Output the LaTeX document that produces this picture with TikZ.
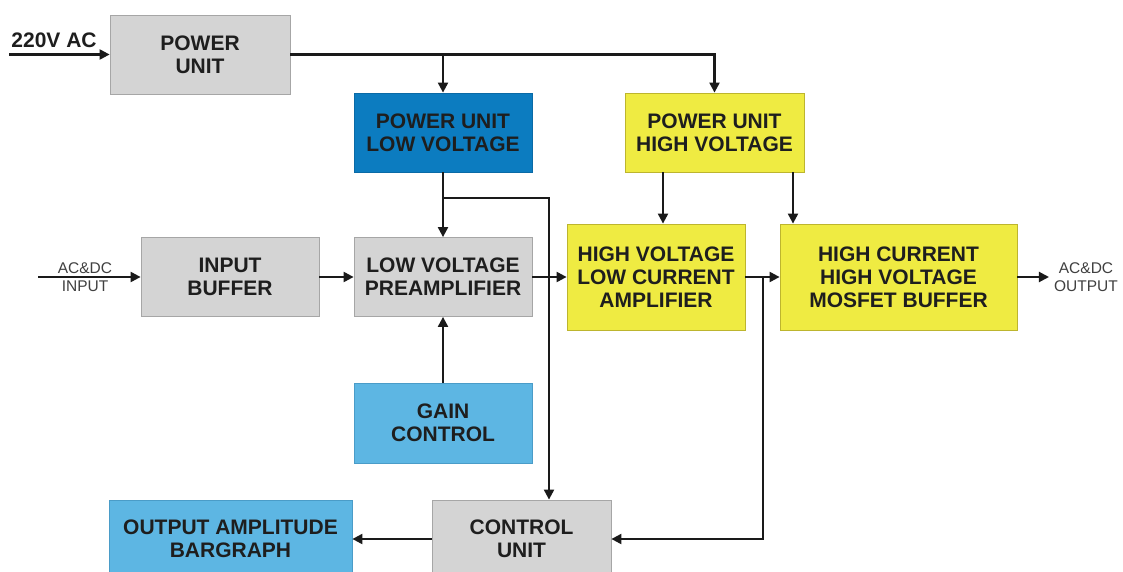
\documentclass[tikz,border=0pt]{standalone}
\usepackage{fontspec}
\setmainfont{Liberation Sans}
\usetikzlibrary{arrows.meta}
\definecolor{boxgray}{HTML}{D4D4D4}
\definecolor{grayedge}{HTML}{A6A6A6}
\definecolor{dblue}{HTML}{0C7CC0}
\definecolor{dblueedge}{HTML}{0A6AA6}
\definecolor{lblue}{HTML}{5DB6E3}
\definecolor{lblueedge}{HTML}{4A9CC8}
\definecolor{yel}{HTML}{EFEB42}
\definecolor{yeledge}{HTML}{BDB52E}
\definecolor{txt}{HTML}{1E1E1E}
\definecolor{lin}{HTML}{1A1A1A}
\definecolor{smalltxtc}{HTML}{404040}
\begin{document}
\begin{tikzpicture}[x=1pt,y=-1pt,
  blockbox/.style={rectangle, inner sep=0pt, align=center, line width=0.8pt,
    font=\bfseries\fontsize{21}{23}\selectfont, text=txt},
  graybox/.style={blockbox, fill=boxgray, draw=grayedge},
  dbluebox/.style={blockbox, fill=dblue, draw=dblueedge},
  lbluebox/.style={blockbox, fill=lblue, draw=lblueedge},
  yelbox/.style={blockbox, fill=yel, draw=yeledge},
  smalltxt/.style={inner sep=0pt, align=center, font=\fontsize{15.5}{18}\selectfont, text=smalltxtc},
  conn/.style={line width=2.1pt, draw=lin, -{Triangle[length=10pt,width=10pt]}}]
\useasboundingbox[fill=white] (0,0) rectangle (1123,572);

\node[graybox, minimum width=180pt, minimum height=79pt] (pu) at (200,54.5) {POWER\\UNIT};
\node[dbluebox, minimum width=178pt, minimum height=79pt] (pulv) at (443,132.5) {POWER UNIT\\LOW VOLTAGE};
\node[yelbox, minimum width=179pt, minimum height=79pt] (puhv) at (714.5,132.5) {POWER UNIT\\HIGH VOLTAGE};
\node[graybox, minimum width=178pt, minimum height=79pt] (ib) at (230,277) {INPUT\\BUFFER};
\node[graybox, minimum width=178pt, minimum height=79pt] (lvp) at (443,277) {LOW VOLTAGE\\PREAMPLIFIER};
\node[yelbox, minimum width=178pt, minimum height=106pt] (hvlca) at (656,277) {HIGH VOLTAGE\\LOW CURRENT\\AMPLIFIER};
\node[yelbox, minimum width=237pt, minimum height=106pt] (hchv) at (898.5,277) {HIGH CURRENT\\HIGH VOLTAGE\\MOSFET BUFFER};
\node[lbluebox, minimum width=178pt, minimum height=80pt] (gain) at (443,423) {GAIN\\CONTROL};
\node[graybox, minimum width=179pt, minimum height=78pt] (cu) at (521.5,539) {CONTROL\\UNIT};
\node[lbluebox, minimum width=243pt, minimum height=78pt] (oab) at (230.5,539) {OUTPUT AMPLITUDE\\BARGRAPH};

\node[blockbox, anchor=base west] (aclbl) at (11,48) {220V AC};
\node[smalltxt] (inlbl) at (85,277) {AC\&DC\\INPUT};
\node[smalltxt] (outlbl) at (1086,277) {AC\&DC\\OUTPUT};

\coordinate (acin) at (9,54.5);
\coordinate (inarr) at (38,277);
\coordinate (j2) at (443,198);
\coordinate (j2r) at (549,198);
\coordinate (hva) at (663,0);
\coordinate (hvb) at (793,0);
\coordinate (fb) at (763,277);

\draw[conn] (acin) -- (pu.west);
\draw[conn] (pu.east) -| (puhv.north);
\draw[conn] (pu.east -| pulv.north) -- (pulv.north);
\draw[conn] (pulv.south) -- (lvp.north);
\draw[conn] (j2) -- (j2r) -- (j2r |- cu.north);
\draw[conn] (gain.north) -- (lvp.south);
\draw[conn] (inarr) -- (ib.west);
\draw[conn] (ib.east) -- (lvp.west);
\draw[conn] (lvp.east) -- (hvlca.west);
\draw[conn] (hva |- puhv.south) -- (hva |- hvlca.north);
\draw[conn] (hvb |- puhv.south) -- (hvb |- hchv.north);
\draw[conn] (hvlca.east) -- (hchv.west);
\draw[conn] (fb) |- (cu.east);
\draw[conn] (hchv.east) -- ([xshift=-5pt]outlbl.west);
\draw[conn] (cu.west) -- (oab.east);
\end{tikzpicture}
\end{document}
